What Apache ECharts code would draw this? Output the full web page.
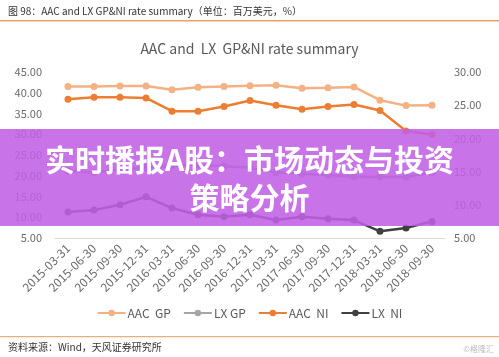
<!DOCTYPE html>
<html><head><meta charset="utf-8">
<script src="https://cdn.jsdelivr.net/npm/echarts@6/dist/echarts.min.js"></script>
<style>html,body{margin:0;padding:0;background:#fff}#c{width:499px;height:357px}</style>
</head><body><div id="c"></div>
<script>
const categories = ['2015-03-31','2015-06-30','2015-09-30','2015-12-31','2016-03-31','2016-06-30','2016-09-30','2016-12-31','2017-03-31','2017-06-30','2017-09-30','2017-12-31','2018-03-31','2018-06-30','2018-09-30'];
const aacGP = [41.5,41.5,41.6,41.6,40.7,41.3,41.5,41.7,41.8,41.1,41.2,41.4,38.2,36.9,37.0];
const lxGP  = [21.2,20.8,21.5,22.0,22.4,22.6,22.3,21.9,20.8,20.5,20.2,19.8,19.7,19.7,20.7];
const aacNI = [25.9,26.2,26.2,26.1,24.1,24.1,24.8,25.7,25.0,24.4,24.8,25.1,24.2,21.1,20.6];
const lxNI  = [8.9,9.2,10.0,11.2,9.5,8.5,8.2,8.5,7.7,8.2,7.9,7.7,6.0,6.5,7.5];
const seriesNames = ['AAC  GP','LX GP','AAC  NI','LX  NI'];
const headerText = '图 98：AAC and LX GP&NI rate summary（单位：百万美元，%）';
const titleText = 'AAC and  LX  GP&NI rate summary';
const sourceText = '资料来源：Wind，天风证券研究所';
const bannerLines = ['实时播报A股：市场动态与投资', '策略分析'];

const FONT = '"Noto Sans CJK SC","Noto Sans",sans-serif';
const chart = echarts.init(document.getElementById('c'), null, {renderer:'canvas'});
function mk(name, data, color, yIdx){
  return {name, type:'line', data, yAxisIndex:yIdx, symbol:'circle', symbolSize:7,
    lineStyle:{color, width:2.5}, itemStyle:{color}, z:3};
}
chart.setOption({
  animation:false,
  title:{text:titleText, left:'center', top:37, textStyle:{fontFamily:FONT, fontSize:14, fontWeight:'normal', color:'#595959'}},
  grid:{left:55, right:54, top:72, bottom:119},
  legend:{data:seriesNames, top:302, left:'center', itemWidth:28, itemHeight:8, itemGap:12,
    textStyle:{fontFamily:FONT, fontSize:12, color:'#595959', padding:[0,0,0,-3]}},
  xAxis:{type:'category', data:categories, boundaryGap:true,
    axisLine:{lineStyle:{color:'#d9d9d9'}}, axisTick:{show:false},
    axisLabel:{rotate:45, interval:0, fontFamily:FONT, fontSize:12, color:'#6a6a6a', margin:8}},
  yAxis:[
    {type:'value', min:5, max:45, interval:5, position:'left', splitLine:{show:false},
     axisLine:{show:false}, axisTick:{show:false},
     axisLabel:{formatter:v=>v.toFixed(2), fontFamily:FONT, fontSize:11, color:'#6a6a6a', margin:13}},
    {type:'value', min:5, max:30, interval:5, position:'right', splitLine:{show:false},
     axisLine:{show:false}, axisTick:{show:false},
     axisLabel:{formatter:v=>v.toFixed(2), fontFamily:FONT, fontSize:11, color:'#6a6a6a', margin:9}}
  ],
  series:[
    mk(seriesNames[0], aacGP, '#f4b183', 0),
    mk(seriesNames[1], lxGP, '#a5a5a5', 0),
    mk(seriesNames[2], aacNI, '#ed7d31', 1),
    mk(seriesNames[3], lxNI, '#404040', 1)
  ],
  graphic:[
    {type:'text', left:8, top:6, z:10, style:{text:headerText, font:'10px '+FONT, fill:'#333'}},
    {type:'rect', shape:{x:0, y:20, width:499, height:1.5}, style:{fill:'#e3a466'}, z:10},
    {type:'rect', shape:{x:0, y:336, width:499, height:1.2}, style:{fill:'#e3b07e'}, z:10},
    {type:'text', left:8, top:342, z:10, style:{text:sourceText, font:'10px '+FONT, fill:'#333'}},
    {type:'text', right:5, top:345, z:10, style:{text:'©格隆汇', font:'8px '+FONT, fill:'#bbb'}},
    {type:'rect', shape:{x:0, y:129, width:499, height:97}, style:{fill:'rgba(193,96,229,0.88)'}, z:20},
    {type:'text', z:21, x:249.5, y:160, style:{text:bannerLines[0], font:'bold 30px '+FONT, fill:'#fff', align:'center', verticalAlign:'middle', shadowColor:'rgba(0,0,0,0.25)', shadowBlur:3}},
    {type:'text', z:21, x:249.5, y:198, style:{text:bannerLines[1], font:'bold 30px '+FONT, fill:'#fff', align:'center', verticalAlign:'middle', shadowColor:'rgba(0,0,0,0.25)', shadowBlur:3}}
  ]
});
</script></body></html>
